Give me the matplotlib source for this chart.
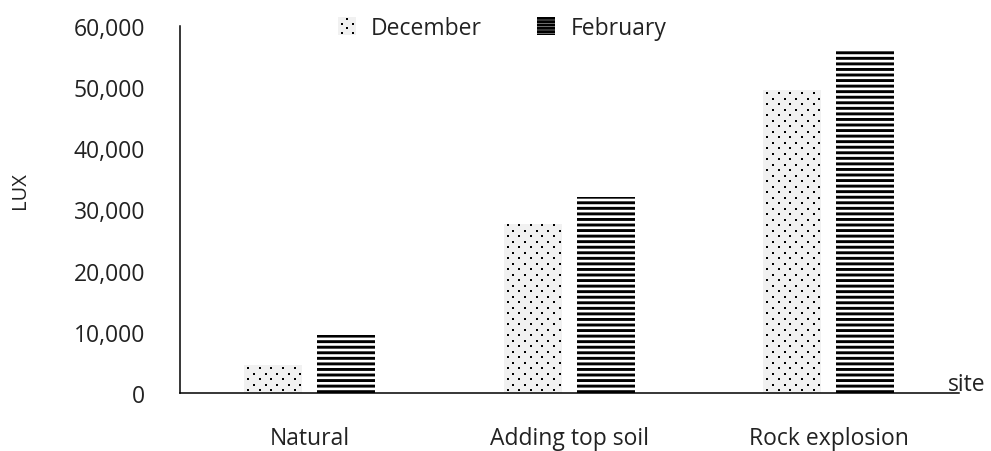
import numpy as np
import matplotlib
matplotlib.use("Agg")
import matplotlib.pyplot as plt
from matplotlib.patches import Patch, Rectangle
from matplotlib.lines import Line2D
from matplotlib.legend_handler import HandlerBase
from matplotlib.ticker import FuncFormatter

# ---- data -------------------------------------------------------------
sites = ["Natural", "Adding top soil", "Rock explosion"]
december = [4500, 27700, 49600]
february = [9500, 32000, 55900]
y_ticks = [0, 10000, 20000, 30000, 40000, 50000, 60000]

# ---- style ------------------------------------------------------------
plt.rcParams["font.family"] = ["Open Sans", "DejaVu Sans"]
plt.rcParams["hatch.linewidth"] = 2.1
TEXT = "#222222"
DOT_BG = "#f1f1f1"
FS = 16.5

W_PX, H_PX, DPI = 991, 452, 100
fig = plt.figure(figsize=(W_PX / DPI, H_PX / DPI), dpi=DPI)

ax_left, ax_right, ax_top, ax_bottom = 180, 958.5, 27, 394
ax = fig.add_axes([ax_left / W_PX, 1 - ax_bottom / H_PX,
                   (ax_right - ax_left) / W_PX, (ax_bottom - ax_top) / H_PX])

x = np.arange(len(sites))
width = 0.224
offset = 0.141

ax.set_xlim(-0.5, len(sites) - 0.5)
ax.set_ylim(0, 60000)

dec_bars = ax.bar(x - offset, december, width, color=DOT_BG, linewidth=0, zorder=2)
feb_bars = ax.bar(x + offset, february, width, facecolor="white", edgecolor="black",
                  hatch="---", linewidth=0, zorder=2)

# dotted fill for the December bars: staggered square dots clipped to each bar
px_per_x = (ax_right - ax_left) / (ax.get_xlim()[1] - ax.get_xlim()[0])
px_per_y = (ax_bottom - ax_top) / (ax.get_ylim()[1] - ax.get_ylim()[0])
step_x = 11.6 / px_per_x
step_y = 5.5 / px_per_y
for rect in dec_bars:
    x0, y0 = rect.get_x(), rect.get_y()
    w, h = rect.get_width(), rect.get_height()
    for i, yy in enumerate(np.arange(y0 + 0.5 * step_y, y0 + h, step_y)):
        start = x0 + step_x * (0.35 if i % 2 == 0 else 0.85)
        xs = np.arange(start, x0 + w, step_x)
        dots, = ax.plot(xs, np.full_like(xs, yy), ls="none", marker="s",
                        ms=2.0, mew=0, color="black", zorder=3)
        dots.set_clip_path(rect)

# ---- axes styling ------------------------------------------------------
for side in ("top", "right"):
    ax.spines[side].set_visible(False)
for side in ("left", "bottom"):
    ax.spines[side].set_linewidth(1.1)
    ax.spines[side].set_color("black")

ax.set_yticks(y_ticks)
ax.yaxis.set_major_formatter(FuncFormatter(lambda v, _: f"{int(v):,}"))
ax.set_xticks(x)
ax.set_xticklabels(sites)
ax.tick_params(axis="y", length=0, pad=25, labelsize=FS, labelcolor=TEXT)
ax.tick_params(axis="x", length=0, pad=23.5, labelsize=FS, labelcolor=TEXT)

fig.text(20 / W_PX, 1 - 191 / H_PX, "LUX", rotation=90, ha="center", va="center",
         fontsize=14.5, color=TEXT)
fig.text(948 / W_PX, 1 - 391 / H_PX, "site", ha="left", va="baseline",
         fontsize=FS, color=TEXT)


# ---- legend -------------------------------------------------------------
class DotSwatch(HandlerBase):
    def create_artists(self, legend, orig_handle, xdescent, ydescent,
                       width, height, fontsize, trans):
        bg = Rectangle((-xdescent, -ydescent), width, height, facecolor=DOT_BG,
                       linewidth=0, transform=trans)
        artists = [bg]
        rows = 4
        for i in range(rows):
            yy = -ydescent + height * (i + 0.5) / rows
            fr = [0.2, 0.8] if i % 2 == 0 else [0.5]
            xs = [-xdescent + width * f for f in fr]
            artists.append(Line2D(xs, [yy] * len(xs), ls="none", marker="s",
                                  ms=2.0, mew=0, color="black", transform=trans))
        return artists


dec_handle = Patch(facecolor=DOT_BG, linewidth=0)
feb_handle = Patch(facecolor="white", edgecolor="black", hatch="-----", linewidth=0)
fig.legend([dec_handle, feb_handle], ["December", "February"],
           handler_map={dec_handle: DotSwatch()},
           loc="center", bbox_to_anchor=(502 / W_PX, 1 - 29 / H_PX), ncol=2,
           frameon=False, fontsize=FS, labelcolor=TEXT,
           handlelength=0.8, handleheight=0.8, handletextpad=0.65,
           columnspacing=2.4, borderpad=0, borderaxespad=0)

fig.savefig("out.png", dpi=DPI)
